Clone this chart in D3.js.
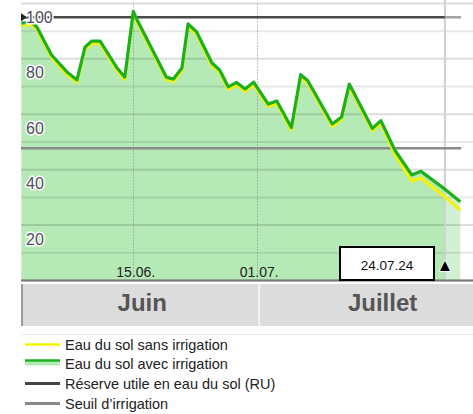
<!DOCTYPE html>
<html>
<head>
<meta charset="utf-8">
<script src="https://cdn.jsdelivr.net/npm/d3@7"></script>
<style>
  html, body { margin: 0; padding: 0; background: #fff; }
  svg { display: block; font-family: "Liberation Sans", Arial, sans-serif; }
</style>
</head>
<body>
<svg id="chart" width="473" height="414"></svg>
<script>
// ---- data (days counted from 01.06.) ----
const days = [-0.5, 0.8, 1.5, 3.4, 5.4, 6.7, 7.75, 8.6, 9.7, 11.9, 12.9, 14.0, 14.5, 18.3, 19.2, 20.3,
  21.1, 22.2, 24.2, 25.2, 26.3, 27.4, 28.5, 29.6, 31.5, 32.6, 34.5, 35.7, 36.6, 39.8, 41.0, 42.0,
  45.0, 46.1, 47.9, 50.1, 51.3, 54.2, 56.4];
const soilWith = [97.9, 98.3, 96.5, 86.4, 80.3, 77.4, 89.3, 91.4, 91.4, 81.7, 78.4, 102.1, 99.0, 78.4, 77.7, 81.7,
  97.6, 94.8, 83.5, 81.0, 74.9, 76.5, 74.1, 76.6, 68.7, 69.8, 60.2, 79.3, 77.2, 61.5, 64.0, 75.9,
  59.9, 62.7, 52.1, 43.1, 44.4, 38.4, 33.4];
const soilWithout = [97.0, 97.4, 95.6, 85.5, 79.4, 76.5, 88.4, 90.5, 90.5, 80.8, 77.5, 101.2, 98.1, 77.5, 76.8, 80.8,
  96.7, 93.9, 82.6, 80.1, 74.0, 75.6, 73.2, 75.7, 67.8, 68.9, 59.3, 78.4, 76.3, 60.6, 63.1, 75.0,
  59.0, 61.8, 50.6, 40.9, 42.0, 35.6, 30.4];
const ruValue = 100;
const seuilValue = 52.7;
const todayDay = 54.4;
const todayLabel = "24.07.24";
const yTicks = [20, 40, 60, 80, 100];
const gridValues = [5, 15, 25, 35, 45, 55, 65, 75, 85, 95, 105];
const xTickDays = [14, 30];
const xTickLabels = ["15.06.", "01.07."];
const months = ["Juin", "Juillet"];
const monthStart = [0, 30];
const monthEnd = [30, 61];
const legendLabels = ["Eau du sol sans irrigation", "Eau du sol avec irrigation",
  "Réserve utile en eau du sol (RU)", "Seuil d\u2019irrigation"];

// ---- layout ----
const W = 473;
const plotL = 21, plotR = 473, plotT = 3.45, plotB = 280.5;
const svg = d3.select("#chart");

const x = d3.scaleLinear().domain([0, 30]).range([25.3, 256.7]);
const y = d3.scaleLinear().domain([5, 105]).range([plotB, plotT]);

const pts = days.map((d, i) => ({d, w: soilWith[i], wo: soilWithout[i]}));

const defs = svg.append("defs");
defs.append("clipPath").attr("id", "past").append("rect")
  .attr("x", plotL).attr("y", 0).attr("width", x(todayDay) - plotL).attr("height", plotB);
defs.append("clipPath").attr("id", "plot").append("rect")
  .attr("x", plotL).attr("y", 0).attr("width", plotR - plotL).attr("height", plotB);

// area (forecast lighter, past darker)
const area = d3.area().x(p => x(p.d)).y0(y(5)).y1(p => y(p.w));
svg.append("path").datum(pts).attr("d", area).attr("fill", "#d2f0d2").attr("clip-path", "url(#plot)");
svg.append("path").datum(pts).attr("d", area).attr("fill", "#b5e9b5").attr("clip-path", "url(#past)");

// horizontal grid
svg.append("g").selectAll("line").data(gridValues).join("line")
  .attr("x1", plotL).attr("x2", plotR)
  .attr("y1", v => y(v)).attr("y2", v => y(v))
  .attr("stroke", (v, i) => i % 2 === 0 ? "rgba(0,0,0,0.13)" : "rgba(0,0,0,0.09)")
  .attr("stroke-width", 2);

// vertical dotted lines
svg.append("g").selectAll("line").data(xTickDays).join("line")
  .attr("x1", d => Math.round(x(d)) + 0.5).attr("x2", d => Math.round(x(d)) + 0.5)
  .attr("y1", plotT).attr("y2", plotB)
  .attr("stroke", "#8a8a8a").attr("stroke-width", 1).attr("stroke-dasharray", "1,2");

// today line
svg.append("line")
  .attr("x1", x(todayDay)).attr("x2", x(todayDay)).attr("y1", 0).attr("y2", plotB)
  .attr("stroke", "#d0d0d0").attr("stroke-width", 2);

// reference lines
const refEnd = x(56.5);
svg.append("line").attr("x1", plotL).attr("x2", x(todayDay)).attr("y1", y(ruValue)).attr("y2", y(ruValue))
  .attr("stroke", "#4a4a4a").attr("stroke-width", 2.5);
svg.append("line").attr("x1", x(todayDay)).attr("x2", refEnd).attr("y1", y(ruValue)).attr("y2", y(ruValue))
  .attr("stroke", "#a0a0a0").attr("stroke-width", 2.5);
svg.append("line").attr("x1", plotL).attr("x2", refEnd).attr("y1", y(seuilValue)).attr("y2", y(seuilValue))
  .attr("stroke", "#8a8a8a").attr("stroke-width", 2.5);
svg.append("path")
  .attr("d", `M${plotL},${y(ruValue) - 4}L${plotL + 6},${y(ruValue)}L${plotL},${y(ruValue) + 4}Z`)
  .attr("fill", "#222");

// data lines
const lineWo = d3.line().x(p => x(p.d)).y(p => y(p.wo));
const lineW = d3.line().x(p => x(p.d)).y(p => y(p.w));
const gLines = svg.append("g").attr("clip-path", "url(#plot)");
gLines.append("path").datum(pts).attr("d", lineWo).attr("fill", "none")
  .attr("stroke", "#f4f400").attr("stroke-width", 3).attr("stroke-linejoin", "round");
gLines.append("path").datum(pts).attr("d", lineW).attr("fill", "none")
  .attr("stroke", "#1cb01c").attr("stroke-width", 3.2).attr("stroke-linejoin", "round");

// y labels
svg.append("g").selectAll("text").data(yTicks).join("text")
  .attr("x", 26).attr("y", v => y(v)).attr("dy", "0.35em")
  .attr("font-size", 16).attr("fill", "#4d4d5c")
  .attr("stroke", "#fff").attr("stroke-width", 3).attr("paint-order", "stroke")
  .text(v => v);

// bottom axis line
svg.append("line").attr("x1", plotL).attr("x2", plotR).attr("y1", plotB).attr("y2", plotB)
  .attr("stroke", "#777").attr("stroke-width", 2);

// x tick labels
svg.append("g").selectAll("text").data(xTickDays).join("text")
  .attr("x", d => x(d) + 2.5).attr("y", 276.5).attr("text-anchor", "middle")
  .attr("font-size", 14).attr("fill", "#222")
  .text((d, i) => xTickLabels[i]);

// date box and marker
svg.append("rect").attr("x", 340).attr("y", 247).attr("width", 94).attr("height", 33)
  .attr("fill", "#fff").attr("stroke", "#000").attr("stroke-width", 2);
svg.append("text").attr("x", 387).attr("y", 265).attr("dy", "0.35em").attr("text-anchor", "middle")
  .attr("font-size", 13.5).attr("fill", "#111").text(todayLabel);
svg.append("text").attr("x", x(todayDay)).attr("y", 265.5).attr("dy", "0.35em").attr("text-anchor", "middle")
  .attr("font-size", 17).attr("fill", "#000")
  .attr("stroke", "#fff").attr("stroke-width", 1.5).attr("paint-order", "stroke")
  .text("\u25B2");

// month band
const bandT = 284, bandB = 326;
svg.append("rect").attr("x", 22).attr("y", bandT).attr("width", W - 22).attr("height", bandB - bandT)
  .attr("fill", "#dcdcdc");
svg.append("line").attr("x1", 22).attr("x2", 22).attr("y1", bandT).attr("y2", bandB)
  .attr("stroke", "#9a9a9a").attr("stroke-width", 2);
svg.append("line").attr("x1", x(30) + 2.5).attr("x2", x(30) + 2.5).attr("y1", bandT).attr("y2", bandB)
  .attr("stroke", "#f3f3f3").attr("stroke-width", 2);
const bandMaxRight = 506;
svg.append("g").selectAll("text").data(months).join("text")
  .attr("x", (m, i) => {
    const a = Math.max(22, x(monthStart[i]) + (i ? 2.5 : 0));
    const b = i ? bandMaxRight : x(monthEnd[i]) + 2.5;
    return (a + b) / 2;
  })
  .attr("y", 311).attr("text-anchor", "middle")
  .attr("font-size", 24).attr("font-weight", "bold").attr("fill", "#555")
  .text(m => m);

// separator
svg.append("line").attr("x1", plotL).attr("x2", plotR).attr("y1", 334.5).attr("y2", 334.5)
  .attr("stroke", "#ececec").attr("stroke-width", 1);

// legend
const legY = [344.5, 364, 383.5, 403.5];
const leg = svg.append("g");
leg.append("line").attr("x1", 25).attr("x2", 60).attr("y1", legY[0]).attr("y2", legY[0])
  .attr("stroke", "#f4f400").attr("stroke-width", 2.5);
leg.append("rect").attr("x", 25).attr("y", legY[1] - 2.5).attr("width", 35).attr("height", 4)
  .attr("fill", "#b5e9b5");
leg.append("line").attr("x1", 25).attr("x2", 60).attr("y1", legY[1] - 3.5).attr("y2", legY[1] - 3.5)
  .attr("stroke", "#1cb01c").attr("stroke-width", 2.5);
leg.append("line").attr("x1", 25).attr("x2", 60).attr("y1", legY[2]).attr("y2", legY[2])
  .attr("stroke", "#444").attr("stroke-width", 3);
leg.append("line").attr("x1", 25).attr("x2", 60).attr("y1", legY[3]).attr("y2", legY[3])
  .attr("stroke", "#888").attr("stroke-width", 3);
leg.selectAll("text").data(legendLabels).join("text")
  .attr("x", 65).attr("y", (d, i) => legY[i]).attr("dy", "0.35em")
  .attr("font-size", 14.5).attr("fill", "#222")
  .text(d => d);
</script>
</body>
</html>
